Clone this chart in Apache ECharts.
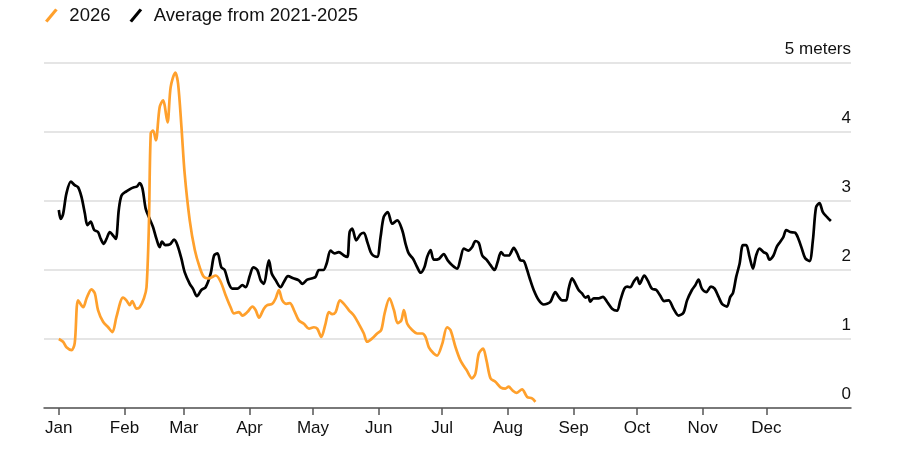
<!DOCTYPE html>
<html>
<head>
<meta charset="utf-8">
<title>Wave height</title>
<script src="https://cdn.jsdelivr.net/npm/echarts@6/dist/echarts.min.js"></script>
<style>
	html, body { margin: 0; padding: 0; background: #fff; }
	#main { width: 900px; height: 453px; }
</style>
</head>
<body>
<div id="main"></div>
<script>
/**
 * 数据（按年内天数，1月1日 = 0）
 */
// 2021-2025 平均
var avgDays = [0, 0.9, 2, 3.6, 5.7, 7.5, 9.1, 10.7, 12.3, 13.5, 15, 16.7, 18.5, 19.8, 21.2, 22.5, 24.1, 25.6, 26.9, 28.3,
	29.6, 31.9, 34, 35.5, 36.9, 38.2, 39.5, 41, 42.9, 44.5, 46.1, 47.6, 48.7, 50.3, 52.4, 54.4, 56, 57.9, 59.4, 61.8,
	63.3, 65.2, 67.3, 69.3, 71.7, 73.3, 74.9, 76.7, 78.3, 80.3, 81.9, 84.3, 86.7, 88.2, 90.2, 91.8, 93.7, 95.3, 96.8, 98.4,
	99.2, 100.5, 102.4, 104.7, 106.3, 108.2, 110.7, 113.3, 115, 117.3, 119.7, 121.2, 122.8, 124.9, 126.4, 128.3, 130.2, 132.2, 134.6, 136.2,
	137.3, 138.5, 140.4, 142.5, 144, 145.6, 147.2, 148.4, 150.3, 151.9, 153.4, 155.3, 157.4, 159.8, 162.1, 163.7, 165.2, 167.3, 169.2, 170.8,
	172.6, 173.9, 175.5, 177, 179.4, 181.7, 183.6, 185.7, 188.1, 189.6, 191.2, 193.3, 195.1, 196.7, 198.3, 199.9, 201.9, 203.8, 205.7, 207.2,
	208.8, 210.4, 212.4, 214.8, 216.4, 217.9, 219.5, 221.1, 222.3, 224.2, 226.6, 228.9, 230.5, 232.1, 234.4, 236, 237.6, 239.5, 240.7, 242.3,
	243.9, 245.4, 247, 248.6, 249.9, 250.9, 252.5, 254.9, 256.9, 258.8, 261.2, 263.5, 265.1, 267, 268.3, 269.8, 271.4, 273, 274.2, 276.4,
	278, 280, 282.1, 283.9, 285.8, 287.9, 290.2, 292.6, 294.9, 296.6, 298.9, 300.5, 302, 303.6, 305.7, 307.9, 309.6, 311.5, 313.1, 315.4,
	317, 318.3, 319.8, 321.4, 323, 324.5, 326.1, 327.7, 329.2, 330.8, 332.7, 334.3, 335.5, 337.4, 339, 340.6, 342.1, 343.4, 345.3, 347.6,
	349.2, 350.8, 352.4, 354.4, 356, 357.5, 359.1, 360.7, 362.6, 364.5];
var avgValues = [2.87, 2.74, 2.81, 3.11, 3.28, 3.23, 3.2, 3.06, 2.82, 2.65, 2.7, 2.58, 2.55, 2.45, 2.38, 2.45, 2.55, 2.5, 2.45, 2.87,
	3.08, 3.14, 3.18, 3.2, 3.21, 3.26, 3.18, 2.89, 2.74, 2.62, 2.45, 2.33, 2.41, 2.36, 2.37, 2.44, 2.36, 2.16, 1.97, 1.8,
	1.73, 1.62, 1.71, 1.75, 1.95, 2.21, 2.24, 2.04, 2, 1.8, 1.73, 1.73, 1.78, 1.75, 1.92, 2.04, 2, 1.85, 1.8, 2.04,
	2.14, 1.95, 1.85, 1.75, 1.83, 1.91, 1.88, 1.85, 1.8, 1.86, 1.88, 1.9, 2, 2, 2.09, 2.28, 2.24, 2.26, 2.21, 2.19,
	2.55, 2.6, 2.43, 2.52, 2.54, 2.41, 2.26, 2.21, 2.19, 2.48, 2.77, 2.84, 2.67, 2.72, 2.58, 2.38, 2.24, 2.16, 2.04, 1.96,
	2.04, 2.19, 2.29, 2.15, 2.16, 2.23, 2.14, 2.07, 2.02, 2.16, 2.31, 2.28, 2.33, 2.42, 2.39, 2.21, 2.15, 2.07, 2, 2.12,
	2.26, 2.21, 2.21, 2.32, 2.24, 2.14, 2.13, 2, 1.88, 1.71, 1.56, 1.5, 1.51, 1.54, 1.68, 1.61, 1.56, 1.56, 1.73, 1.88,
	1.8, 1.71, 1.66, 1.6, 1.62, 1.54, 1.59, 1.59, 1.61, 1.54, 1.44, 1.41, 1.56, 1.73, 1.76, 1.75, 1.83, 1.89, 1.8, 1.92,
	1.85, 1.73, 1.71, 1.63, 1.55, 1.56, 1.44, 1.34, 1.38, 1.56, 1.71, 1.78, 1.86, 1.73, 1.68, 1.76, 1.73, 1.61, 1.51, 1.47,
	1.61, 1.67, 1.9, 2.09, 2.36, 2.36, 2.19, 2.02, 2.21, 2.31, 2.26, 2.23, 2.15, 2.21, 2.34, 2.41, 2.48, 2.58, 2.55, 2.54,
	2.45, 2.31, 2.17, 2.13, 2.43, 2.91, 2.97, 2.84, 2.77, 2.71];

// 2026
var days2026 = [0, 2, 3.6, 6, 7.5, 9.1, 11.5, 13.1, 15.4, 17, 18.5, 20.9, 23.3, 25.3, 27.2, 30.3, 31.9, 33.5, 34.6, 36.7,
	38.2, 40.2, 41.4, 42.5, 43.4, 44.5, 45.8, 47.6, 49.2, 51.3, 52.8, 55, 56.3, 57.9, 59.4, 61.8, 64.2, 66.5, 68.5, 70.9,
	74.1, 76.4, 78.8, 81.1, 82.7, 85, 86.7, 89, 91.4, 92.9, 94.5, 96.8, 98.4, 100.8, 102.4, 103.9, 105.5, 107.5, 109.1, 111,
	113.3, 115.7, 118.1, 120.4, 122, 123.9, 125.9, 127.5, 129.1, 130.7, 132.7, 134.6, 136.9, 139.3, 141.6, 144, 145.6, 148, 150.3, 152.2,
	153.8, 156.1, 158.2, 160, 161.7, 162.9, 164.5, 166.8, 169.2, 171.6, 173.1, 174.7, 177, 178.6, 181, 183.3, 184.9, 187.3, 189.6, 192.5,
	195.1, 196.7, 198.3, 200.3, 201.9, 203.8, 206.1, 208.5, 210.8, 212.4, 214, 216, 218.7, 221.1, 223.4, 225];
var values2026 = [1, 0.96, 0.88, 0.84, 0.94, 1.56, 1.46, 1.59, 1.72, 1.66, 1.42, 1.25, 1.17, 1.1, 1.32, 1.6, 1.56, 1.49, 1.55, 1.44,
	1.46, 1.59, 1.75, 2.62, 3.98, 4.02, 3.88, 4.36, 4.46, 4.14, 4.65, 4.86, 4.7, 4.07, 3.4, 2.72, 2.29, 2.04, 1.9, 1.88,
	1.92, 1.83, 1.63, 1.46, 1.37, 1.39, 1.34, 1.39, 1.47, 1.42, 1.31, 1.44, 1.49, 1.51, 1.59, 1.71, 1.56, 1.51, 1.52, 1.42,
	1.27, 1.22, 1.15, 1.17, 1.15, 1.03, 1.22, 1.39, 1.36, 1.39, 1.56, 1.51, 1.42, 1.34, 1.22, 1.08, 0.96, 1.01, 1.08, 1.13,
	1.37, 1.59, 1.42, 1.23, 1.27, 1.42, 1.22, 1.13, 1.08, 1.08, 1.03, 0.88, 0.79, 0.76, 0.93, 1.17, 1.13, 0.88, 0.69, 0.55,
	0.43, 0.5, 0.79, 0.86, 0.69, 0.43, 0.38, 0.3, 0.28, 0.31, 0.26, 0.22, 0.27, 0.16, 0.14, 0.09];

// 坐标轴刻度
var monthStarts = [0, 31, 59, 90, 120, 151, 181, 212, 243, 273, 304, 334];
var monthLabels = ["Jan", "Feb", "Mar", "Apr", "May", "Jun", "Jul", "Aug", "Sep", "Oct", "Nov", "Dec"];
var yTicks = [0, 1, 2, 3, 4, 5];

/**
 * 绘制折线图
 */
function plotChart() {
	var myChart = echarts.init(document.getElementById('main'));
	var font = '"Liberation Sans", Arial, sans-serif';

	// 组合成 [天, 值]
	function pairs(xs, ys) {
		return xs.map(function(x, i) {
			return [x, ys[i]];
		});
	}

	var option = {
		animation : false,
		textStyle : {
			fontFamily : font
		},
		legend : {
			left : 40,
			top : 1,
			itemWidth : 14,
			itemHeight : 14,
			itemGap : 19,
			data : [ {
				name : '2026',
				icon : 'path://M0,12 L10,0 L12.5,1.8 L2.5,13.8 Z'
			}, {
				name : 'Average from 2021-2025',
				icon : 'path://M0,12 L10,0 L12.5,1.8 L2.5,13.8 Z'
			} ],
			textStyle : {
				fontSize : 18.5,
				color : '#111',
				padding : [ 0, 0, 0, 6 ]
			}
		},
		grid : {
			left : 44,
			right : 49,
			top : 63,
			bottom : 45
		},
		xAxis : {
			type : 'value',
			min : -7,
			max : 374,
			splitLine : {
				show : false
			},
			axisLine : {
				lineStyle : {
					color : '#555',
					width : 1.5
				}
			},
			axisTick : {
				customValues : monthStarts,
				length : 7,
				lineStyle : {
					color : '#555',
					width : 1.5
				}
			},
			axisLabel : {
				customValues : monthStarts,
				margin : 12,
				fontSize : 17,
				color : '#111',
				formatter : function(v) {
					var i = monthStarts.indexOf(v);
					return i >= 0 ? monthLabels[i] : '';
				}
			}
		},
		yAxis : {
			type : 'value',
			position : 'right',
			min : yTicks[0],
			max : yTicks[yTicks.length - 1],
			interval : 1,
			axisLine : {
				show : false
			},
			axisTick : {
				show : false
			},
			splitLine : {
				lineStyle : {
					color : '#dcdcdc',
					width : 1.5
				}
			},
			axisLabel : {
				inside : true,
				margin : 0,
				fontSize : 17,
				color : '#111',
				align : 'right',
				verticalAlign : 'bottom',
				padding : [ 0, 0, 5, 0 ],
				formatter : function(v) {
					return v === 5 ? '5 meters' : String(v);
				}
			}
		},
		series : [ {
			name : 'Average from 2021-2025',
			type : 'line',
			showSymbol : false,
			smooth : 0.3,
			color : '#000',
			lineStyle : {
				width : 2.7,
				color : '#000'
			},
			data : pairs(avgDays, avgValues)
		}, {
			name : '2026',
			type : 'line',
			showSymbol : false,
			smooth : 0.3,
			color : '#ffa02c',
			lineStyle : {
				width : 2.7,
				color : '#ffa02c'
			},
			data : pairs(days2026, values2026)
		} ]
	};
	myChart.setOption(option);
}

plotChart();
</script>
</body>
</html>
